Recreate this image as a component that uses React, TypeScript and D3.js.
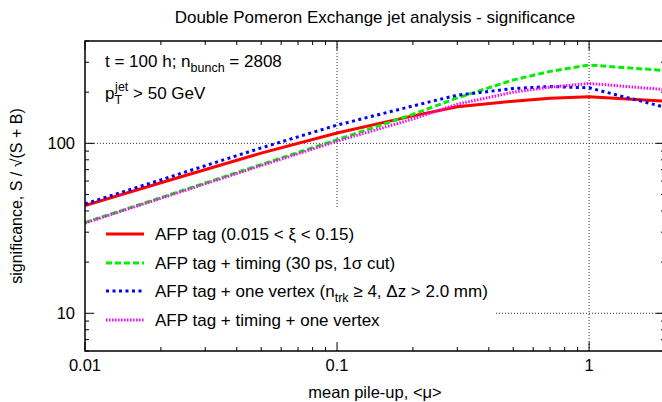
import React, { useEffect, useRef } from "react"
import * as d3 from "d3"

// mean pile-up values where the significance was evaluated
const mu = [0.01, 0.02, 0.05, 0.1, 0.2, 0.3, 0.5, 0.7, 1, 2]
// significance per selection
const afpTag = [43, 58.6, 87.6, 115, 145, 164, 177, 184, 188, 177]
const afpTiming = [34.2, 47.9, 75, 105, 148, 185, 236, 265, 289, 268]
const afpVertex = [44, 61, 94, 128, 166, 192, 210, 216, 212, 163]
const afpTimingVertex = [34, 47.5, 74, 103, 139, 170, 200, 214, 225, 207]

const xTicks = [0.01, 0.1, 1]
const xTickLabels = ["0.01", "0.1", "1"]
const yTicks = [10, 100]
const yTickLabels = ["10", "100"]

const W = 662
const H = 402
const margin = { top: 41, right: -3, bottom: 51, left: 85 }
const FONT = "'Liberation Sans', Arial, Helvetica, sans-serif"

export default function App() {
  const ref = useRef<SVGSVGElement>(null)

  useEffect(() => {
    const svg = d3.select(ref.current)
    svg.selectAll("*").remove()

    const x0 = margin.left
    const x1 = W - margin.right
    const y0 = margin.top
    const y1 = H - margin.bottom
    const xc = (x0 + x1) / 2

    const x = d3.scaleLog().domain([0.01, 2]).range([x0, x1])
    const y = d3.scaleLog().domain([6, 400]).range([y1, y0])

    // grid
    const grid = svg.append("g").attr("stroke", "#333").attr("stroke-width", 1).attr("stroke-dasharray", "1,2")
    xTicks.slice(1).forEach(t => {
      grid.append("line").attr("x1", x(t)).attr("x2", x(t)).attr("y1", y0).attr("y2", y1)
    })
    yTicks.forEach(t => {
      grid.append("line").attr("x1", x0).attr("x2", x1).attr("y1", y(t)).attr("y2", y(t))
    })

    // key background hides the grid
    svg.append("rect").attr("x", x0 + 1).attr("y", 207).attr("width", 494 - x0 - 1).attr("height", y1 - 207 - 1).attr("fill", "white")

    // ticks on all four sides
    const minorX: number[] = []
    ;[0.01, 0.1, 1].forEach(d => { for (let k = 2; k <= 9; k++) if (d * k <= 2) minorX.push(d * k) })
    const minorY: number[] = []
    ;[1, 10, 100].forEach(d => { for (let k = 2; k <= 9; k++) if (d * k >= 6 && d * k <= 400) minorY.push(d * k) })

    const ticks = svg.append("g").attr("stroke", "black").attr("stroke-width", 1)
    const tickX = (v: number, len: number) => {
      ticks.append("line").attr("x1", x(v)).attr("x2", x(v)).attr("y1", y1).attr("y2", y1 - len)
      ticks.append("line").attr("x1", x(v)).attr("x2", x(v)).attr("y1", y0).attr("y2", y0 + len)
    }
    const tickY = (v: number, len: number) => {
      ticks.append("line").attr("x1", x0).attr("x2", x0 + len).attr("y1", y(v)).attr("y2", y(v))
      ticks.append("line").attr("x1", x1).attr("x2", x1 - len).attr("y1", y(v)).attr("y2", y(v))
    }
    xTicks.forEach(t => tickX(t, 9))
    minorX.forEach(t => tickX(t, 4))
    yTicks.forEach(t => tickY(t, 9))
    minorY.forEach(t => tickY(t, 4))

    // tick labels
    xTicks.forEach((t, i) => {
      svg.append("text").attr("x", x(t)).attr("y", 371).attr("text-anchor", "middle")
        .attr("font-family", FONT).attr("font-size", 16.5).text(xTickLabels[i])
    })
    yTicks.forEach((t, i) => {
      svg.append("text").attr("x", 75).attr("y", y(t)).attr("dy", "0.35em").attr("text-anchor", "end")
        .attr("font-family", FONT).attr("font-size", 16.5).text(yTickLabels[i])
    })

    // curves
    const series = [
      { values: afpTag, color: "#ff0000", dash: null as string | null },
      { values: afpTiming, color: "#00ee00", dash: "6,3" },
      { values: afpVertex, color: "#0000ff", dash: "3,3.5" },
      { values: afpTimingVertex, color: "#ff00ff", dash: "1.5,1.5" },
    ]
    const line = d3.line<number>().x((d, i) => x(mu[i])).y(d => y(d))
    const clip = svg.append("clipPath").attr("id", "plotclip")
    clip.append("rect").attr("x", x0).attr("y", y0).attr("width", x1 - x0).attr("height", y1 - y0)
    const curves = svg.append("g").attr("clip-path", "url(#plotclip)")
    series.forEach(s => {
      const p = curves.append("path").attr("d", line(s.values)).attr("fill", "none")
        .attr("stroke", s.color).attr("stroke-width", 3)
      if (s.dash) p.attr("stroke-dasharray", s.dash)
    })

    // frame
    svg.append("rect").attr("x", x0).attr("y", y0).attr("width", x1 - x0).attr("height", y1 - y0)
      .attr("fill", "none").attr("stroke", "black").attr("stroke-width", 1.5)

    // key
    const keyY = [234, 263, 291, 320]
    const key = svg.append("g").attr("font-family", FONT).attr("font-size", 17)
    series.forEach((s, i) => {
      const l = key.append("line").attr("x1", 106).attr("x2", 144).attr("y1", keyY[i]).attr("y2", keyY[i])
        .attr("stroke", s.color).attr("stroke-width", 3)
      if (s.dash) l.attr("stroke-dasharray", s.dash)
    })
    const k0 = key.append("text").attr("x", 155).attr("y", keyY[0]).attr("dy", "0.35em")
    k0.text("AFP tag (0.015 < ξ < 0.15)")
    const k1 = key.append("text").attr("x", 155).attr("y", keyY[1]).attr("dy", "0.35em")
    k1.text("AFP tag + timing (30 ps, 1σ cut)")
    const k2 = key.append("text").attr("x", 155).attr("y", keyY[2]).attr("dy", "0.35em")
    k2.append("tspan").text("AFP tag + one vertex (n")
    k2.append("tspan").attr("font-size", 12.5).attr("dy", 5).text("trk")
    k2.append("tspan").attr("dy", -5).text(" ≥ 4, Δz > 2.0 mm)")
    const k3 = key.append("text").attr("x", 155).attr("y", keyY[3]).attr("dy", "0.35em")
    k3.text("AFP tag + timing + one vertex")

    // labels inside the plot
    const lab = svg.append("g").attr("font-family", FONT).attr("font-size", 17)
    const t1 = lab.append("text").attr("x", 105).attr("y", 67)
    t1.append("tspan").text("t = 100 h; n")
    t1.append("tspan").attr("font-size", 12.5).attr("dy", 5).text("bunch")
    t1.append("tspan").attr("dy", -5).text(" = 2808")
    const t2 = lab.append("text").attr("x", 105).attr("y", 99)
    t2.append("tspan").text("p")
    t2.append("tspan").attr("font-size", 12.5).attr("dy", 5).text("T")
    t2.append("tspan").attr("font-size", 12.5).attr("dy", -13).attr("dx", -7).text("jet")
    t2.append("tspan").attr("dy", 8).text(" > 50 GeV")

    // title and axis titles
    svg.append("text").attr("x", xc).attr("y", 23).attr("text-anchor", "middle")
      .attr("font-family", FONT).attr("font-size", 17).text("Double Pomeron Exchange jet analysis - significance")
    svg.append("text").attr("x", xc).attr("y", 398).attr("text-anchor", "middle")
      .attr("font-family", FONT).attr("font-size", 16.5).text("mean pile-up, <μ>")
    svg.append("text").attr("transform", `translate(22,${(y0 + y1) / 2}) rotate(-90)`).attr("text-anchor", "middle")
      .attr("font-family", FONT).attr("font-size", 16).text("significance, S / √(S + B)")
  }, [])

  return (
    <div style={{ position: "absolute", left: 0, top: 0 }}>
      <svg ref={ref} width={W} height={H} style={{ display: "block", background: "white" }} />
    </div>
  )
}
